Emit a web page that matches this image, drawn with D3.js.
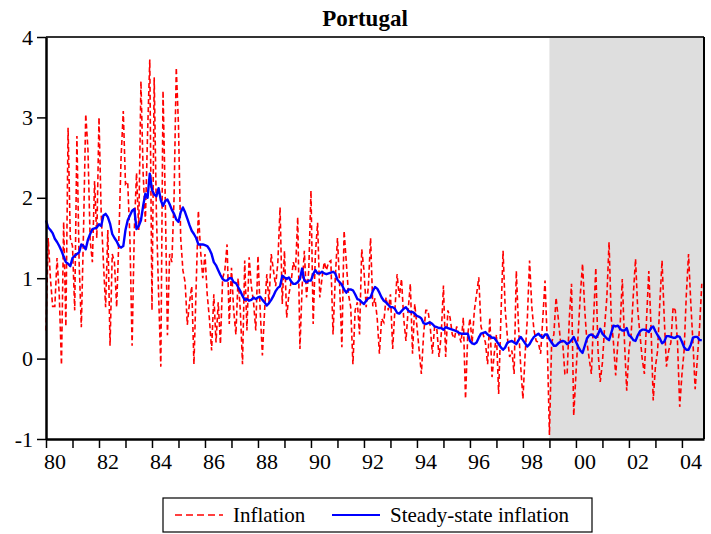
<!DOCTYPE html>
<html>
<head>
<meta charset="utf-8">
<script src="https://cdn.jsdelivr.net/npm/d3@7"></script>
<style>
  body { margin: 0; background: #fff; }
  svg { display: block; font-family: "Liberation Serif", "Times New Roman", serif; }
  .axis path, .axis line { stroke: #000; }
  .axis text { fill: #000; }
</style>
</head>
<body>
<div id="chart"></div>
<script>
// monthly data, 1980:01 onwards
var startYear = 1980;
var shadeFrom = 1999;

var inflation = [
  0.35, 1.5, 1.0, 0.65, 0.65, 1.25, 0.8, -0.08, 1.7, 0.4, 2.87, 1.5,      // 1980
  1.4, 0.6, 2.77, 1.2, 0.39, 1.6, 3.04, 2.6, 1.47, 1.2, 2.21, 1.5,        // 1981
  3.0, 1.8, 1.2, 0.64, 1.6, 0.16, 1.3, 1.2, 0.64, 1.5, 2.5, 3.08,         // 1982
  2.17, 2.2, 1.5, 0.16, 1.6, 2.31, 1.6, 3.45, 2.3, 1.7, 2.8, 3.72,        // 1983
  0.6, 3.5, 1.8, 0.8, -0.1, 3.33, 2.0, 0.29, 1.3, 1.2, 2.0, 3.62,         // 1984
  2.9, 1.5, 1.1, 0.95, 0.42, 0.7, 0.9, -0.07, 0.9, 1.84, 1.34, 1.0,       // 1985
  1.3, 0.8, 0.5, 0.1, 0.8, 0.2, 0.7, 0.18, 1.0, 1.1, 1.42, 0.43,          // 1986
  1.13, 0.6, 0.3, 1.0, 0.6, -0.07, 1.22, 0.35, 1.26, 0.9, 0.7, 0.35,      // 1987
  1.28, 0.6, 0.04, 0.6, 1.05, 0.7, 1.3, 1.1, 0.9, 1.2, 1.88, 0.68,        // 1988
  1.34, 0.51, 0.8, 0.95, 1.2, 1.1, 1.76, 0.12, 0.9, 1.34, 0.76, 1.1,      // 1989
  2.09, 0.43, 1.3, 1.69, 0.76, 1.0, 1.2, 1.1, 1.2, 1.22, 0.3, 1.0,        // 1990
  1.5, 0.9, 0.14, 1.59, 1.2, 0.8, 0.64, -0.07, 0.6, 0.7, 0.3, 1.36,       // 1991
  1.1, 0.64, 0.9, 1.5, 0.65, 0.75, 0.5, 0.06, 0.5, 0.45, 0.76, 0.6,       // 1992
  0.8, 0.12, 0.6, 1.05, 0.76, 0.99, 0.5, 0.22, 0.6, 0.93, 0.06, 0.68,     // 1993
  0.4, 0.1, -0.19, 0.3, 0.6, 0.6, 0.4, 0.06, 0.4, 0.37, 0.02, 0.3,        // 1994
  0.91, 0.02, 0.6, 0.51, 0.3, 0.25, 0.4, 0.3, 0.2, 0.51, -0.5, 0.3,       // 1995
  0.5, 0.2, 0.6, 0.8, 1.01, 0.4, 0.3, 0.2, -0.07, 0.51, -0.23, 0.06,      // 1996
  0.3, -0.44, 0.5, 1.34, 0.6, 0.25, 0.02, 0.1, -0.19, 1.09, 0.4, -0.1,    // 1997
  -0.5, 0.06, 0.5, 1.22, 0.65, 0.35, 0.22, 0.2, 0.06, 0.5, 0.97, 0.22,    // 1998
  -0.95, 0.2, 0.3, 0.76, 0.5, 0.22, 0.2, -0.19, -0.2, 0.5, 0.93, -0.71,   // 1999
  -0.19, 0.3, 0.8, 1.18, 0.6, 0.2, 0.0, -0.19, 0.5, 1.13, 0.1, -0.29,     // 2000
  -0.05, 0.4, 0.76, 1.45, 0.5, 0.2, -0.21, 0.2, 0.4, 0.99, 0.2, -0.4,     // 2001
  0.1, 0.3, 0.8, 1.24, 0.6, 0.3, 0.0, -0.19, 0.5, 1.09, 0.4, -0.52,       // 2002
  -0.1, 0.1, 0.7, 1.22, 0.5, -0.1, 0.1, 0.2, 0.64, 0.6, 0.2, -0.6,        // 2003
  -0.2, 0.1, 0.8, 1.3, 0.7, 0.2, -0.38, 0.0, 0.4, 0.93                    // 2004
];

var steadyState = [
  1.72, 1.63, 1.60, 1.56, 1.49, 1.45, 1.40, 1.34, 1.27, 1.20, 1.18, 1.15,
  1.25, 1.28, 1.30, 1.32, 1.42, 1.40, 1.36, 1.48, 1.55, 1.61, 1.62, 1.63,
  1.67, 1.65, 1.78, 1.80, 1.76, 1.68, 1.55, 1.50, 1.46, 1.40, 1.38, 1.40,
  1.60, 1.72, 1.78, 1.84, 1.86, 1.61, 1.65, 1.72, 1.90, 2.05, 2.00, 2.30,
  2.10, 2.04, 2.02, 2.12, 1.97, 1.90, 1.96, 1.98, 1.92, 1.85, 1.80, 1.73,
  1.70, 1.82, 1.88, 1.82, 1.74, 1.66, 1.59, 1.55, 1.50, 1.42, 1.42, 1.42,
  1.41, 1.40, 1.36, 1.30, 1.20, 1.16, 1.10, 1.04, 0.99, 0.97, 0.97, 1.00,
  1.00, 0.95, 0.94, 0.89, 0.84, 0.78, 0.73, 0.74, 0.72, 0.73, 0.76, 0.74,
  0.76, 0.77, 0.73, 0.70, 0.66, 0.69, 0.73, 0.78, 0.84, 0.88, 0.90, 1.03,
  1.01, 0.99, 1.01, 0.96, 0.93, 0.93, 0.95, 0.99, 1.12, 0.97, 0.95, 0.97,
  0.97, 1.05, 1.10, 1.06, 1.06, 1.08, 1.06, 1.05, 1.06, 1.07, 1.08, 1.06,
  0.98, 0.95, 0.92, 0.86, 0.82, 0.86, 0.86, 0.85, 0.80, 0.74, 0.73, 0.70,
  0.68, 0.72, 0.75, 0.76, 0.84, 0.89, 0.87, 0.82, 0.76, 0.72, 0.70, 0.67,
  0.64, 0.64, 0.62, 0.57, 0.56, 0.59, 0.62, 0.64, 0.60, 0.58, 0.58, 0.56,
  0.53, 0.52, 0.50, 0.44, 0.43, 0.44, 0.45, 0.43, 0.40, 0.39, 0.38, 0.38,
  0.36, 0.39, 0.38, 0.37, 0.36, 0.35, 0.34, 0.32, 0.31, 0.31, 0.31, 0.31,
  0.22, 0.19, 0.18, 0.20, 0.26, 0.31, 0.32, 0.33, 0.30, 0.28, 0.26, 0.26,
  0.22, 0.18, 0.14, 0.11, 0.14, 0.20, 0.21, 0.22, 0.20, 0.18, 0.23, 0.27,
  0.23, 0.19, 0.15, 0.18, 0.23, 0.27, 0.29, 0.31, 0.28, 0.26, 0.30, 0.30,
  0.24, 0.20, 0.16, 0.16, 0.19, 0.21, 0.22, 0.21, 0.18, 0.20, 0.23, 0.27,
  0.21, 0.15, 0.10, 0.07, 0.16, 0.25, 0.29, 0.30, 0.28, 0.26, 0.30, 0.37,
  0.31, 0.28, 0.25, 0.23, 0.32, 0.41, 0.40, 0.41, 0.37, 0.35, 0.35, 0.38,
  0.29, 0.27, 0.23, 0.22, 0.29, 0.34, 0.36, 0.36, 0.35, 0.33, 0.38, 0.40,
  0.34, 0.29, 0.25, 0.19, 0.21, 0.28, 0.28, 0.27, 0.26, 0.26, 0.28, 0.27,
  0.21, 0.14, 0.11, 0.11, 0.17, 0.26, 0.27, 0.27, 0.23, 0.23
];

var yTicks = [-1, 0, 1, 2, 3, 4];
var yearTicks = d3.range(1980, 2005);          // one tick per year
var labelYears = d3.range(1980, 2005, 2);      // labelled every other year
var seriesNames = ["Inflation", "Steady-state inflation"];

var serif = "'Liberation Serif', 'Times New Roman', serif";

var margin = {top: 37, right: 7, bottom: 95, left: 46},
    width = 711 - margin.left - margin.right,
    height = 534 - margin.top - margin.bottom;

var endYear = startYear + inflation.length / 12;

var x = d3.scaleLinear().domain([startYear, endYear]).range([0, width]);
var y = d3.scaleLinear().domain([-1, 4]).range([height, 0]);

var svg = d3.select("#chart").append("svg")
    .attr("width", 711)
    .attr("height", 534);

svg.append("text")
    .attr("x", 365)
    .attr("y", 26)
    .attr("text-anchor", "middle")
    .style("font-weight", "bold")
    .style("font-size", "23px")
    .text("Portugal");

var g = svg.append("g")
    .attr("transform", "translate(" + margin.left + "," + margin.top + ")");

// forecast period shading
g.append("rect")
    .attr("x", x(shadeFrom))
    .attr("y", 0)
    .attr("width", x(endYear) - x(shadeFrom))
    .attr("height", height)
    .attr("fill", "#dedede");

function obsYear(d, i) { return startYear + i / 12; }

var line = d3.line()
    .x(function(d, i) { return x(obsYear(d, i)); })
    .y(function(d) { return y(d); });

g.append("path")
    .datum(inflation)
    .attr("fill", "none")
    .attr("stroke", "#ff0000")
    .attr("stroke-width", 1.6)
    .attr("stroke-dasharray", "5,3")
    .attr("d", line);

g.append("path")
    .datum(steadyState)
    .attr("fill", "none")
    .attr("stroke", "#0000ff")
    .attr("stroke-width", 2.4)
    .attr("stroke-linejoin", "round")
    .attr("d", line);

// frame: top and right
g.append("line")
    .attr("x1", 0).attr("x2", width).attr("y1", 0).attr("y2", 0)
    .attr("stroke", "#333").attr("stroke-width", 2);
g.append("line")
    .attr("x1", width).attr("x2", width).attr("y1", 0).attr("y2", height)
    .attr("stroke", "#000").attr("stroke-width", 2);

var xAxis = g.append("g")
    .attr("class", "axis axis--x")
    .attr("transform", "translate(0," + height + ")")
    .call(d3.axisBottom(x).tickValues(yearTicks).tickSize(9).tickSizeOuter(0).tickFormat(""));
xAxis.attr("font-family", serif);
xAxis.select(".domain").attr("stroke-width", 2.5);
xAxis.selectAll(".tick line").attr("stroke-width", 1.5);

xAxis.selectAll(".year-label")
    .data(labelYears)
  .enter().append("text")
    .attr("class", "year-label")
    .attr("x", function(d) { return x(d) + 9; })
    .attr("y", 30)
    .attr("text-anchor", "middle")
    .style("font-size", "22px")
    .text(function(d) { return d3.format("02")(d % 100); });

var yAxis = g.append("g")
    .attr("class", "axis axis--y")
    .call(d3.axisLeft(y).tickValues(yTicks).tickSize(9).tickSizeOuter(0)
      .tickFormat(function(d) { return String(d); }));
yAxis.attr("font-family", serif);
yAxis.select(".domain").attr("stroke-width", 2.5);
yAxis.selectAll(".tick line").attr("stroke-width", 1.5);
yAxis.selectAll(".tick text")
    .attr("x", -13)
    .style("font-size", "22px");

// legend
var legend = svg.append("g").attr("transform", "translate(163,498)");
legend.append("rect")
    .attr("width", 429).attr("height", 34)
    .attr("fill", "#fff").attr("stroke", "#000").attr("stroke-width", 1.2);

legend.append("line")
    .attr("x1", 12).attr("x2", 60).attr("y1", 17).attr("y2", 17)
    .attr("stroke", "#ff0000").attr("stroke-width", 1.4).attr("stroke-dasharray", "7,4");
legend.append("text")
    .attr("x", 70).attr("y", 24)
    .style("font-size", "21px")
    .text(seriesNames[0]);

legend.append("line")
    .attr("x1", 169).attr("x2", 217).attr("y1", 17).attr("y2", 17)
    .attr("stroke", "#0000ff").attr("stroke-width", 2);
legend.append("text")
    .attr("x", 227).attr("y", 24)
    .style("font-size", "21px")
    .text(seriesNames[1]);
</script>
</body>
</html>
